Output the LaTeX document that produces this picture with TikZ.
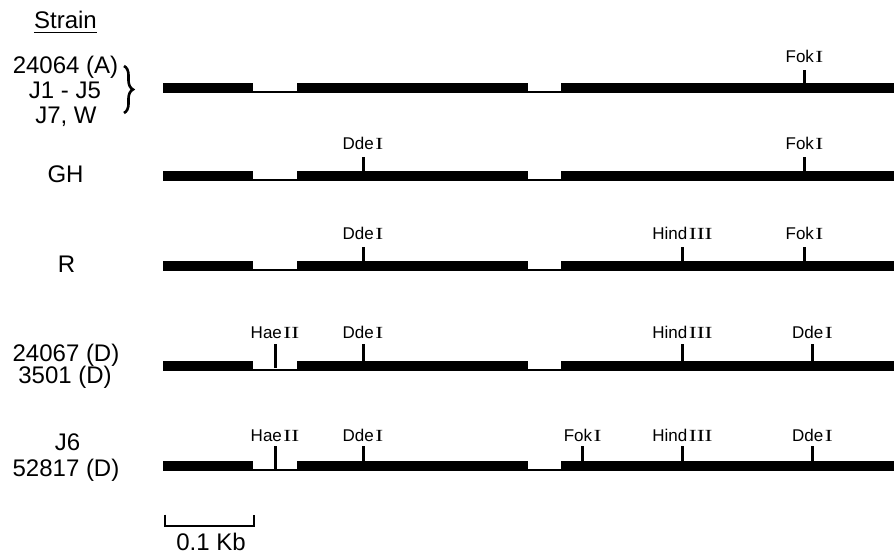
\documentclass[tikz,border=0pt]{standalone}
\usepackage{fontspec}
\setmainfont{Liberation Sans}
\newfontfamily\numfont[FakeStretch=1.4]{Liberation Serif}
\usetikzlibrary{decorations.pathreplacing}

% roman numeral of a restriction enzyme name
\newcommand\rn[1]{\kern1.5pt{\numfont #1}}

% one gene map: exon blocks joined by thin intron lines
% #1 = top edge of the bar
\newcommand\genemap[1]{%
  \fill (163,#1) rectangle (253,{#1+10});
  \fill (253,{#1+8}) rectangle (297,{#1+10});
  \fill (297,#1) rectangle (528,{#1+10});
  \fill (528,{#1+8}) rectangle (561,{#1+10});
  \fill (561,#1) rectangle (894,{#1+10});
}

% restriction site: #1 id, #2 x, #3 tick foot, #4 tick top, #5 label baseline, #6 label
\newcommand\cutsite[6]{%
  \coordinate (#1-b) at (#2,#3);
  \coordinate (#1-t) at (#2,#4);
  \draw[cut] (#1-b) -- (#1-t);
  \node[site] (#1) at (#2,#5) {#6};
}

\begin{document}
\begin{tikzpicture}[x=1pt,y=-1pt,
  strain/.style={font=\fontsize{24}{26}\selectfont, anchor=base, inner sep=0pt},
  site/.style={font=\fontsize{17}{19}\selectfont, anchor=base, inner sep=0pt},
  cut/.style={line width=3pt},
  scalebar/.style={line width=2pt}]
\useasboundingbox (0,0) rectangle (894,556);

% column heading
\node[strain] (head) at (65.5,28.5) {Strain};
\draw[line width=1.5pt] ([yshift=-4pt]head.base west) -- ([yshift=-4pt]head.base east);

% strain names
\node[strain] (s1a) at (65.5,73.5) {24064 (A)};
\node[strain] (s1b) at (65,98.5) {J1 - J5};
\node[strain] (s1c) at (66,123.5) {J7, W};
\coordinate (brtop) at (124,66);
\coordinate (brbot) at (124,113);
\draw[line width=2.6pt, decorate, decoration={brace, amplitude=9pt, aspect=0.5}] (brtop) -- (brbot);

\node[strain] (s2) at (65.5,182.5) {GH};
\node[strain] (s3) at (66.5,272.5) {R};
\node[strain] (s4a) at (66,361) {24067 (D)};
\node[strain] (s4b) at (65,383.5) {3501 (D)};
\node[strain] (s5a) at (67.5,450) {J6};
\node[strain] (s5b) at (66,476.5) {52817 (D)};

% maps
\genemap{83}
\genemap{171}
\genemap{260.7}
\genemap{360.7}
\genemap{461}

% row 1
\cutsite{r1fok}{804.5}{84}{70}{62.7}{Fok\rn{I}}
% row 2
\cutsite{r2dde}{363}{172}{156.7}{149.5}{Dde\rn{I}}
\cutsite{r2fok}{804.5}{172}{156.7}{149.5}{Fok\rn{I}}
% row 3
\cutsite{r3dde}{363}{261.7}{247.3}{239.5}{Dde\rn{I}}
\cutsite{r3hind}{682.5}{261.7}{247.3}{239.5}{Hind\rn{III}}
\cutsite{r3fok}{804.5}{261.7}{247.3}{239.5}{Fok\rn{I}}
% row 4
\cutsite{r4hae}{275}{368}{343.5}{338.5}{Hae\rn{II}}
\cutsite{r4dde}{363}{361.7}{343.5}{338.5}{Dde\rn{I}}
\cutsite{r4hind}{682.5}{361.7}{343.5}{338.5}{Hind\rn{III}}
\cutsite{r4dde2}{812.5}{361.7}{343.5}{338.5}{Dde\rn{I}}
% row 5
\cutsite{r5hae}{275}{469.5}{445.7}{441.7}{Hae\rn{II}}
\cutsite{r5dde}{363}{462}{445.7}{441.7}{Dde\rn{I}}
\cutsite{r5fok}{582.7}{462}{445.7}{441.7}{Fok\rn{I}}
\cutsite{r5hind}{682.5}{462}{445.7}{441.7}{Hind\rn{III}}
\cutsite{r5dde2}{812.5}{462}{445.7}{441.7}{Dde\rn{I}}

% scale bar
\coordinate (sbl) at (164.5,514.5);
\coordinate (sbl0) at (164.5,525.5);
\coordinate (sbr0) at (254,525.5);
\coordinate (sbr) at (254,514.5);
\draw[scalebar] (sbl) -- (sbl0) -- (sbr0) -- (sbr);
\node[strain] (kb) at (211,550.5) {0.1 Kb};
\end{tikzpicture}
\end{document}
